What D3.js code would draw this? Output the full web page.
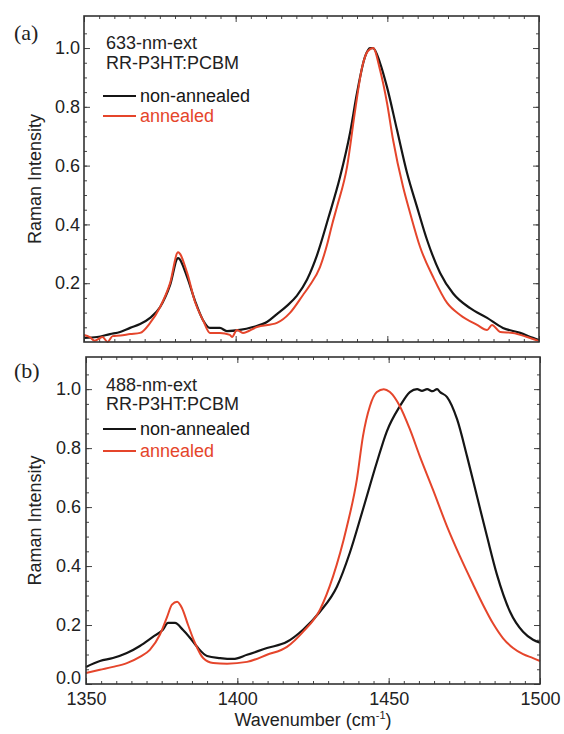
<!DOCTYPE html>
<html>
<head>
<meta charset="utf-8">
<script src="https://cdn.jsdelivr.net/npm/d3@7"></script>
<style>
  body { margin: 0; background: #fff; }
  text { font-family: "Liberation Sans", Arial, sans-serif; fill: #222; }
  .tick line { stroke: #444; stroke-width: 1; }
</style>
</head>
<body>
<div class="graph"></div>
<script>
// panel (a) 633 nm
const aWaveBlack = [1350, 1354.3, 1358.6, 1361.9, 1365.2, 1368.5, 1371.8, 1375.1, 1378.4, 1381, 1384, 1386.6, 1389.2, 1391.5, 1394.8, 1397.1, 1401.4, 1405.7, 1410.3, 1413.6, 1416.9, 1420.2, 1423.5, 1426.8, 1430.5, 1434.4, 1437.7, 1440, 1442.6, 1444.3, 1445.3, 1447.6, 1449.9, 1453.2, 1456.5, 1459.8, 1463.1, 1467.4, 1471.7, 1477.3, 1482.9, 1488.1, 1493.8, 1498, 1500];
const aIntBlack = [.014, .017, .027, .034, .048, .061, .082, .119, .194, .285, .221, .14, .075, .048, .048, .037, .041, .051, .068, .095, .123, .158, .212, .295, .42, .561, .711, .847, .969, 1.0, 1.0, .949, .867, .721, .575, .459, .347, .235, .165, .115, .082, .048, .031, .014, .007];
const aWaveRed = [1350, 1351.9, 1353.5, 1356.1, 1357.8, 1359.4, 1362, 1365.2, 1368.5, 1371.8, 1375.1, 1378.4, 1381, 1384, 1386.6, 1389.2, 1391.5, 1394.8, 1398.1, 1398.8, 1400.4, 1402.4, 1407, 1413.6, 1417.9, 1422.2, 1424.5, 1427.8, 1430.1, 1431.8, 1433.4, 1436.7, 1439.4, 1441.7, 1443.6, 1445.3, 1447.6, 1449.9, 1451.9, 1455.2, 1457.5, 1460.8, 1465.1, 1469.7, 1474, 1479.6, 1482.9, 1484.5, 1487.2, 1491.4, 1496.1, 1500];
const aIntRed = [.024, .017, .004, .017, .0, .02, .022, .027, .031, .065, .119, .201, .305, .235, .136, .075, .031, .031, .024, .017, .041, .031, .051, .065, .099, .16, .194, .255, .33, .40, .46, .595, .789, .935, .99, 1.0, .925, .813, .687, .527, .439, .323, .221, .133, .092, .058, .041, .058, .034, .031, .017, .003];

// panel (b) 488 nm
const bWaveBlack = [1350, 1354.6, 1358.9, 1363.5, 1367.8, 1372.1, 1375.4, 1377.1, 1379.4, 1382, 1384.4, 1386.7, 1390, 1394.3, 1398.6, 1403.2, 1409.8, 1416.4, 1421.7, 1427.3, 1432.9, 1437.2, 1441.5, 1446.1, 1449.4, 1453.7, 1457, 1459.4, 1461, 1462.7, 1464.5, 1466, 1467, 1469.3, 1472.6, 1475.9, 1479.2, 1482.5, 1485.8, 1490.1, 1494.4, 1497.7, 1500];
const bIntBlack = [.058, .078, .088, .105, .129, .16, .184, .207, .207, .184, .156, .126, .095, .088, .085, .099, .122, .143, .184, .245, .33, .446, .592, .752, .857, .942, .99, 1.0, .994, 1.0, .993, 1.0, .99, .973, .898, .772, .636, .50, .37, .245, .177, .15, .14];
const bWaveRed = [1350, 1354.6, 1358.9, 1363.5, 1367.8, 1371.1, 1374.4, 1376.8, 1378.4, 1380.1, 1381.7, 1383.7, 1386, 1388.7, 1392, 1396.6, 1403.2, 1409.8, 1416.4, 1421.7, 1427.3, 1431.6, 1436.2, 1439.5, 1441.5, 1443.8, 1446.1, 1448.4, 1450.4, 1453.7, 1457, 1460.3, 1464.6, 1469.3, 1473.6, 1477.8, 1481.2, 1484.5, 1487.8, 1491.1, 1494.4, 1497.7, 1500];
const bIntRed = [.037, .048, .058, .071, .092, .116, .167, .228, .269, .279, .258, .201, .139, .088, .071, .069, .075, .099, .126, .177, .252, .364, .534, .694, .84, .942, .99, 1.0, .99, .942, .864, .772, .66, .534, .432, .34, .268, .205, .155, .122, .101, .088, .078];

const xTicks = [1350, 1400, 1450, 1500];
const aYTicks = [0.2, 0.4, 0.6, 0.8, 1.0];
const bYTicks = [0.0, 0.2, 0.4, 0.6, 0.8, 1.0];
const seriesNames = ["non-annealed", "annealed"];

const w = 564, h = 734;
const black = "#151515", red = "#e5452b";

const canvas = d3.select('.graph')
  .append("svg")
  .attr("width", w)
  .attr("height", h);

function zip(xs, ys) { return xs.map((v, i) => [v, ys[i]]); }

function drawPanel(p) {
  const x = d3.scaleLinear().domain([1350, 1500]).range([p.left, p.right]);
  const y = d3.scaleLinear().domain([0, 1.109]).range([p.bottom, p.top]);
  const g = canvas.append("g");

  const minorX = d3.range(1355, 1500, 5);
  const minorY = d3.range(0.05, 1.1, 0.05);

  // minor ticks, all four sides, pointing inward
  g.append("g").attr("transform", `translate(0,${p.bottom})`)
    .call(d3.axisBottom(x).tickValues(minorX).tickSize(-3).tickFormat(""));
  g.append("g").attr("transform", `translate(0,${p.top})`)
    .call(d3.axisTop(x).tickValues(minorX).tickSize(-3).tickFormat(""));
  g.append("g").attr("transform", `translate(${p.left},0)`)
    .call(d3.axisLeft(y).tickValues(minorY).tickSize(-3).tickFormat(""));
  g.append("g").attr("transform", `translate(${p.right},0)`)
    .call(d3.axisRight(y).tickValues(minorY).tickSize(-3).tickFormat(""));

  // major ticks
  g.append("g").attr("transform", `translate(0,${p.bottom})`)
    .call(d3.axisBottom(x).tickValues(xTicks).tickSize(-6).tickPadding(8)
      .tickFormat(p.xLabels ? d3.format("d") : ""));
  g.append("g").attr("transform", `translate(0,${p.top})`)
    .call(d3.axisTop(x).tickValues(xTicks).tickSize(-6).tickFormat(""));
  const ya = g.append("g").attr("transform", `translate(${p.left},0)`)
    .call(d3.axisLeft(y).tickValues(p.yTicks).tickSize(-6).tickPadding(p.yPad).tickFormat(d3.format(".1f")));
  g.append("g").attr("transform", `translate(${p.right},0)`)
    .call(d3.axisRight(y).tickValues(p.yTicks).tickSize(-6).tickFormat(""));

  // the 0.0 label sits a little above its tick
  ya.selectAll(".tick text").filter(d => d === 0).attr("dy", "-0.05em");

  g.selectAll(".domain").remove();
  g.selectAll(".tick text").style("font-size", "18px").style("fill", "#222")
    .style("font-family", '"Liberation Sans", Arial, sans-serif');

  const line = d3.line()
    .x(d => x(d[0]))
    .y(d => y(d[1]))
    .curve(d3.curveMonotoneX);

  g.append("path").datum(zip(p.waveBlack, p.intBlack))
    .attr("d", line).attr("fill", "none").attr("stroke", black).attr("stroke-width", 2.2);
  g.append("path").datum(zip(p.waveRed, p.intRed))
    .attr("d", line).attr("fill", "none").attr("stroke", red).attr("stroke-width", 2);

  g.append("rect")
    .attr("x", p.left).attr("y", p.top)
    .attr("width", p.right - p.left).attr("height", p.bottom - p.top)
    .attr("fill", "none").attr("stroke", "#333").attr("stroke-width", 1.6);

  // panel letter
  g.append("text")
    .attr("x", 14).attr("y", p.top + p.letterDy)
    .style("font-family", '"Liberation Serif", "Times New Roman", serif')
    .style("font-size", "22px")
    .text(p.letter);

  // y title
  g.append("text")
    .attr("transform", `translate(41,${(p.top + p.bottom) / 2}) rotate(-90)`)
    .attr("text-anchor", "middle")
    .style("font-size", "18px")
    .text("Raman Intensity");

  // legend
  const lg = p.legend;
  g.append("text").attr("x", lg.x).attr("y", lg.y[0]).style("font-size", "18px").text(p.title1);
  g.append("text").attr("x", lg.x).attr("y", lg.y[1]).style("font-size", "18px").text("RR-P3HT:PCBM");

  const colors = [black, red];
  seriesNames.forEach((name, i) => {
    g.append("line")
      .attr("x1", lg.x - 3).attr("x2", lg.x + 30)
      .attr("y1", lg.y[2 + i] - 6).attr("y2", lg.y[2 + i] - 6)
      .attr("stroke", colors[i]).attr("stroke-width", 2);
    g.append("text")
      .attr("x", lg.x + 34).attr("y", lg.y[2 + i])
      .style("font-size", "18px")
      .style("fill", colors[i])
      .text(name);
  });
}

drawPanel({
  left: 84, right: 539, top: 16, bottom: 342,
  xLabels: false, yTicks: aYTicks, yPad: 4,
  waveBlack: aWaveBlack, intBlack: aIntBlack, waveRed: aWaveRed, intRed: aIntRed,
  letter: "(a)", letterDy: 24, title1: "633-nm-ext",
  legend: {x: 106, y: [49, 69, 102, 122]}
});

drawPanel({
  left: 86, right: 540, top: 357, bottom: 684,
  xLabels: true, yTicks: bYTicks, yPad: 5,
  waveBlack: bWaveBlack, intBlack: bIntBlack, waveRed: bWaveRed, intRed: bIntRed,
  letter: "(b)", letterDy: 21, title1: "488-nm-ext",
  legend: {x: 106, y: [391, 410, 435, 457]}
});

// x title with superscript
const xt = canvas.append("text")
  .attr("x", 313).attr("y", 726)
  .attr("text-anchor", "middle")
  .style("font-size", "18px");
xt.append("tspan").text("Wavenumber (cm");
xt.append("tspan").attr("dy", -7).style("font-size", "11px").text("-1");
xt.append("tspan").attr("dy", 7).text(")");
</script>
</body>
</html>
